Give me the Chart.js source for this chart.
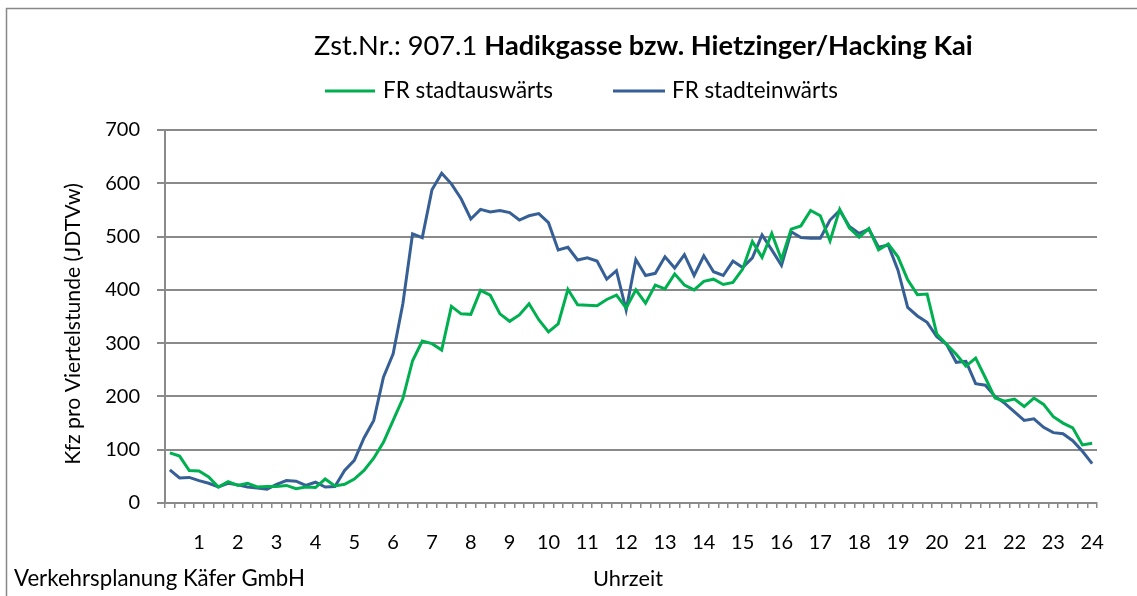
<!DOCTYPE html>
<html>
<head>
<meta charset="utf-8">
<script src="https://cdn.jsdelivr.net/npm/chart.js@4.4.1/dist/chart.umd.min.js"></script>
<style>
  html, body { margin: 0; padding: 0; background: #fff; overflow: hidden; }
  canvas { display: block; }
</style>
</head>
<body>
<canvas id="chart" width="1137" height="596"></canvas>
<script>
// quarter hours of the day, hour numbers shown under every 4th one
var hourLabels = ['1','2','3','4','5','6','7','8','9','10','11','12',
                  '13','14','15','16','17','18','19','20','21','22','23','24'];
var quarters = [];
for (var h = 0; h < 24; h++) {
  for (var q = 1; q <= 4; q++) {
    var m = q * 15;
    quarters.push(m === 60 ? (h + 1) + ':00' : h + ':' + m);
  }
}

// FR stadtauswärts (green)
var stadtauswaerts = [
  94, 88, 61, 60, 49, 30, 40, 33, 37, 30, 31, 31, 33, 27, 30, 29, 45, 32, 35, 45, 61, 84, 114, 155,
  196, 267, 304, 299, 287, 369, 355, 354, 399, 390, 355, 341, 353, 374, 344, 321,
  336, 401, 372, 371, 370, 382, 390, 366, 400, 375, 409, 402, 430, 409, 400, 416, 420, 410, 414, 439,
  491, 461, 506, 457, 514, 520, 549, 539, 492, 551, 516, 499, 515, 475, 486, 462, 419, 391, 392, 317,
  298, 279, 257, 272, 235, 197, 191, 195, 181, 197, 185, 162, 150, 141, 109, 112
];

// FR stadteinwärts (blue)
var stadteinwaerts = [
  62, 47, 48, 42, 37, 30, 37, 34, 30, 28, 26, 35, 42, 41, 33, 39, 30, 31, 61, 80, 122, 155, 236, 280,
  374, 505, 498, 588, 619, 599, 571, 533, 551, 546, 549, 545, 531, 539, 543, 526,
  475, 480, 456, 460, 454, 420, 436, 362, 457, 427, 431, 462, 441, 466, 427, 464, 434, 427, 454, 442,
  460, 503, 475, 446, 509, 498, 497, 497, 531, 549, 519, 506, 514, 480, 484, 437, 367, 351, 339, 312,
  298, 264, 266, 224, 221, 200, 187, 171, 155, 158, 142, 132, 130, 117, 97, 74
];

var GREEN = '#00B050';
var BLUE = '#365F96';
var GRID = '#8a8a8a';
var FONT = 'Lato, "Open Sans", sans-serif';

// draw text scaled so that it covers a given width
function fitText(ctx, text, x, y, width, align, weight) {
  ctx.font = (weight || 'normal') + ' 20px ' + FONT;
  var size = 20 * width / ctx.measureText(text).width;
  ctx.font = (weight || 'normal') + ' ' + size + 'px ' + FONT;
  ctx.textAlign = align;
  ctx.textBaseline = 'middle';
  ctx.fillText(text, x, y);
}

var decorations = {
  id: 'decorations',
  beforeDraw: function (chart) {
    var ctx = chart.ctx;
    ctx.save();
    ctx.strokeStyle = '#888';
    ctx.lineWidth = 1.5;
    ctx.strokeRect(6.5, 8.5, 1300, 800);
    ctx.restore();
  },
  afterDraw: function (chart) {
    var ctx = chart.ctx;
    ctx.save();
    ctx.fillStyle = '#000';

    // title, regular part then bold part
    var t1 = 'Zst.Nr.: 907.1 ';
    var t2 = 'Hadikgasse bzw. Hietzinger/Hacking Kai';
    ctx.font = 'normal 20px ' + FONT;
    var w1 = ctx.measureText(t1).width;
    ctx.font = 'bold 20px ' + FONT;
    var w2 = ctx.measureText(t2).width;
    var s = 20 * 659 / (w1 + w2);
    ctx.textBaseline = 'middle';
    ctx.textAlign = 'left';
    ctx.font = 'normal ' + s + 'px ' + FONT;
    ctx.fillText(t1, 314, 46);
    ctx.font = 'bold ' + s + 'px ' + FONT;
    ctx.fillText(t2, 314 + w1 * s / 20, 46);

    // legend
    var items = [
      { label: chart.data.datasets[0].label, color: GREEN, x0: 325, x1: 375, tx: 383, tw: 170 },
      { label: chart.data.datasets[1].label, color: BLUE, x0: 613, x1: 665, tx: 672, tw: 166 }
    ];
    items.forEach(function (it) {
      ctx.strokeStyle = it.color;
      ctx.lineWidth = 3;
      ctx.beginPath();
      ctx.moveTo(it.x0, 91);
      ctx.lineTo(it.x1, 91);
      ctx.stroke();
      fitText(ctx, it.label, it.tx, 91, it.tw, 'left');
    });

    // axis titles and footer
    ctx.save();
    ctx.translate(73, 324);
    ctx.rotate(-Math.PI / 2);
    fitText(ctx, 'Kfz pro Viertelstunde (JDTVw)', 0, 0, 282, 'center');
    ctx.restore();
    fitText(ctx, 'Uhrzeit', 628, 579, 70, 'center');
    fitText(ctx, 'Verkehrsplanung Käfer GmbH', 14, 579, 291, 'left');
    ctx.restore();
  }
};

new Chart(document.getElementById('chart'), {
  type: 'line',
  data: {
    labels: quarters,
    datasets: [
      {
        label: 'FR stadtauswärts',
        data: stadtauswaerts,
        borderColor: GREEN,
        backgroundColor: GREEN,
        borderWidth: 3,
        pointRadius: 0,
        tension: 0
      },
      {
        label: 'FR stadteinwärts',
        data: stadteinwaerts,
        borderColor: BLUE,
        backgroundColor: BLUE,
        borderWidth: 3,
        pointRadius: 0,
        tension: 0
      }
    ]
  },
  options: {
    responsive: false,
    animation: false,
    devicePixelRatio: 1,
    layout: { padding: { left: 0, right: 40, top: 130, bottom: 0 } },
    plugins: {
      legend: { display: false },
      title: { display: false },
      tooltip: { enabled: false }
    },
    scales: {
      x: {
        type: 'category',
        offset: true,
        afterFit: function (scale) { scale.height = 93; },
        grid: {
          offset: true,
          drawOnChartArea: false,
          drawTicks: true,
          tickLength: 5,
          color: GRID,
          lineWidth: 1.5
        },
        border: { color: GRID, width: 2 },
        ticks: {
          autoSkip: false,
          maxRotation: 0,
          padding: 23,
          color: '#000',
          font: { family: FONT, size: 20 },
          callback: function (value, index) {
            return (index + 1) % 4 === 0 ? hourLabels[(index + 1) / 4 - 1] : '';
          }
        }
      },
      y: {
        min: 0,
        max: 700,
        afterFit: function (scale) { scale.width = 165; },
        grid: {
          color: GRID,
          lineWidth: 2,
          tickLength: 8
        },
        border: { color: GRID, width: 2 },
        ticks: {
          stepSize: 100,
          padding: 17,
          color: '#000',
          font: { family: FONT, size: 20 }
        }
      }
    }
  },
  plugins: [decorations]
});
</script>
</body>
</html>
